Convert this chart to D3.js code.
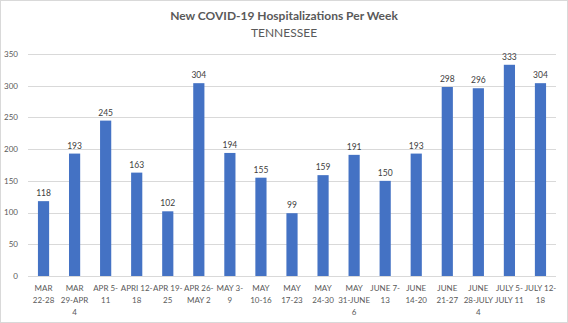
<!DOCTYPE html>
<html>
<head>
<meta charset="utf-8">
<script src="https://cdn.jsdelivr.net/npm/d3@7"></script>
<style>
  body { margin: 0; background: #fff; }
  svg { display: block; font-family: Lato, "Open Sans", sans-serif; }
</style>
</head>
<body>
<div id="chart"></div>
<script>
// week labels, split the way Excel wraps them
var weeks = [
    ["MAR", "22-28"], ["MAR", "29-APR", "4"], ["APR 5-", "11"], ["APRI 12-", "18"],
    ["APR 19-", "25"], ["APR 26-", "MAY 2"], ["MAY 3-", "9"], ["MAY", "10-16"],
    ["MAY", "17-23"], ["MAY", "24-30"], ["MAY", "31-JUNE", "6"], ["JUNE 7-", "13"],
    ["JUNE", "14-20"], ["JUNE", "21-27"], ["JUNE", "28-JULY", "4"], ["JULY 5-", "JULY 11"],
    ["JULY 12-", "18"]
]
var hospitalizations = [118, 193, 245, 163, 102, 304, 194, 155, 99, 159, 191, 150, 193, 298, 296, 333, 304]
var yTicks = [0, 50, 100, 150, 200, 250, 300, 350]

var W = 568, H = 323
var margin = { top: 54, right: 12, bottom: 47, left: 28 }

var svg = d3.select("#chart").append("svg")
    .attr("width", W)
    .attr("height", H)

// outer border
svg.append("rect")
    .attr("x", 0.5).attr("y", 0.5)
    .attr("width", W - 1).attr("height", H - 1)
    .attr("fill", "#fff")
    .attr("stroke", "#d9d9d9")

svg.append("text")
    .attr("x", 284).attr("y", 20)
    .attr("text-anchor", "middle")
    .style("font-size", "12px")
    .style("font-weight", "bold")
    .style("fill", "#595959")
    .text("New COVID-19 Hospitalizations Per Week")

svg.append("text")
    .attr("x", 284).attr("y", 37)
    .attr("text-anchor", "middle")
    .style("font-size", "12px")
    .style("fill", "#595959")
    .text("TENNESSEE")

var idx = d3.range(weeks.length)
var x = d3.scaleBand()
    .domain(idx)
    .range([margin.left, W - margin.right])
    .paddingInner(0.64)
    .paddingOuter(0.32)

var y = d3.scaleLinear()
    .domain([0, 350])
    .range([H - margin.bottom, margin.top])

// gridlines
svg.append("g")
    .selectAll("line")
    .data(yTicks)
    .enter()
    .append("line")
    .attr("x1", margin.left)
    .attr("x2", W - margin.right)
    .attr("y1", d => Math.round(y(d)) + 0.5)
    .attr("y2", d => Math.round(y(d)) + 0.5)
    .attr("stroke", "#d9d9d9")

svg.append("g")
    .selectAll("text")
    .data(yTicks)
    .enter()
    .append("text")
    .attr("x", 18)
    .attr("y", d => y(d))
    .attr("dy", "0.35em")
    .attr("text-anchor", "end")
    .style("font-size", "8px")
    .style("fill", "#595959")
    .text(d => d)

// bars
svg.append("g")
    .selectAll("rect")
    .data(hospitalizations)
    .enter()
    .append("rect")
    .attr("x", (d, i) => x(i))
    .attr("y", d => y(d))
    .attr("width", x.bandwidth())
    .attr("height", d => y(0) - y(d))
    .attr("fill", "#4472c4")

// value labels
svg.append("g")
    .selectAll("text")
    .data(hospitalizations)
    .enter()
    .append("text")
    .attr("x", (d, i) => x(i) + x.bandwidth() / 2)
    .attr("y", d => y(d) - 5)
    .attr("text-anchor", "middle")
    .style("font-size", "8.5px")
    .style("fill", "#404040")
    .text(d => d)

// x labels
var xl = svg.append("g")
    .selectAll("text")
    .data(weeks)
    .enter()
    .append("text")
    .attr("x", (d, i) => x(i) + x.bandwidth() / 2)
    .attr("y", H - margin.bottom + 15)
    .attr("text-anchor", "middle")
    .style("font-size", "8px")
    .style("fill", "#595959")

xl.selectAll("tspan")
    .data(d => d)
    .enter()
    .append("tspan")
    .attr("x", function () { return d3.select(this.parentNode).attr("x") })
    .attr("dy", (d, i) => i == 0 ? 0 : 12)
    .text(d => d)
</script>
</body>
</html>
